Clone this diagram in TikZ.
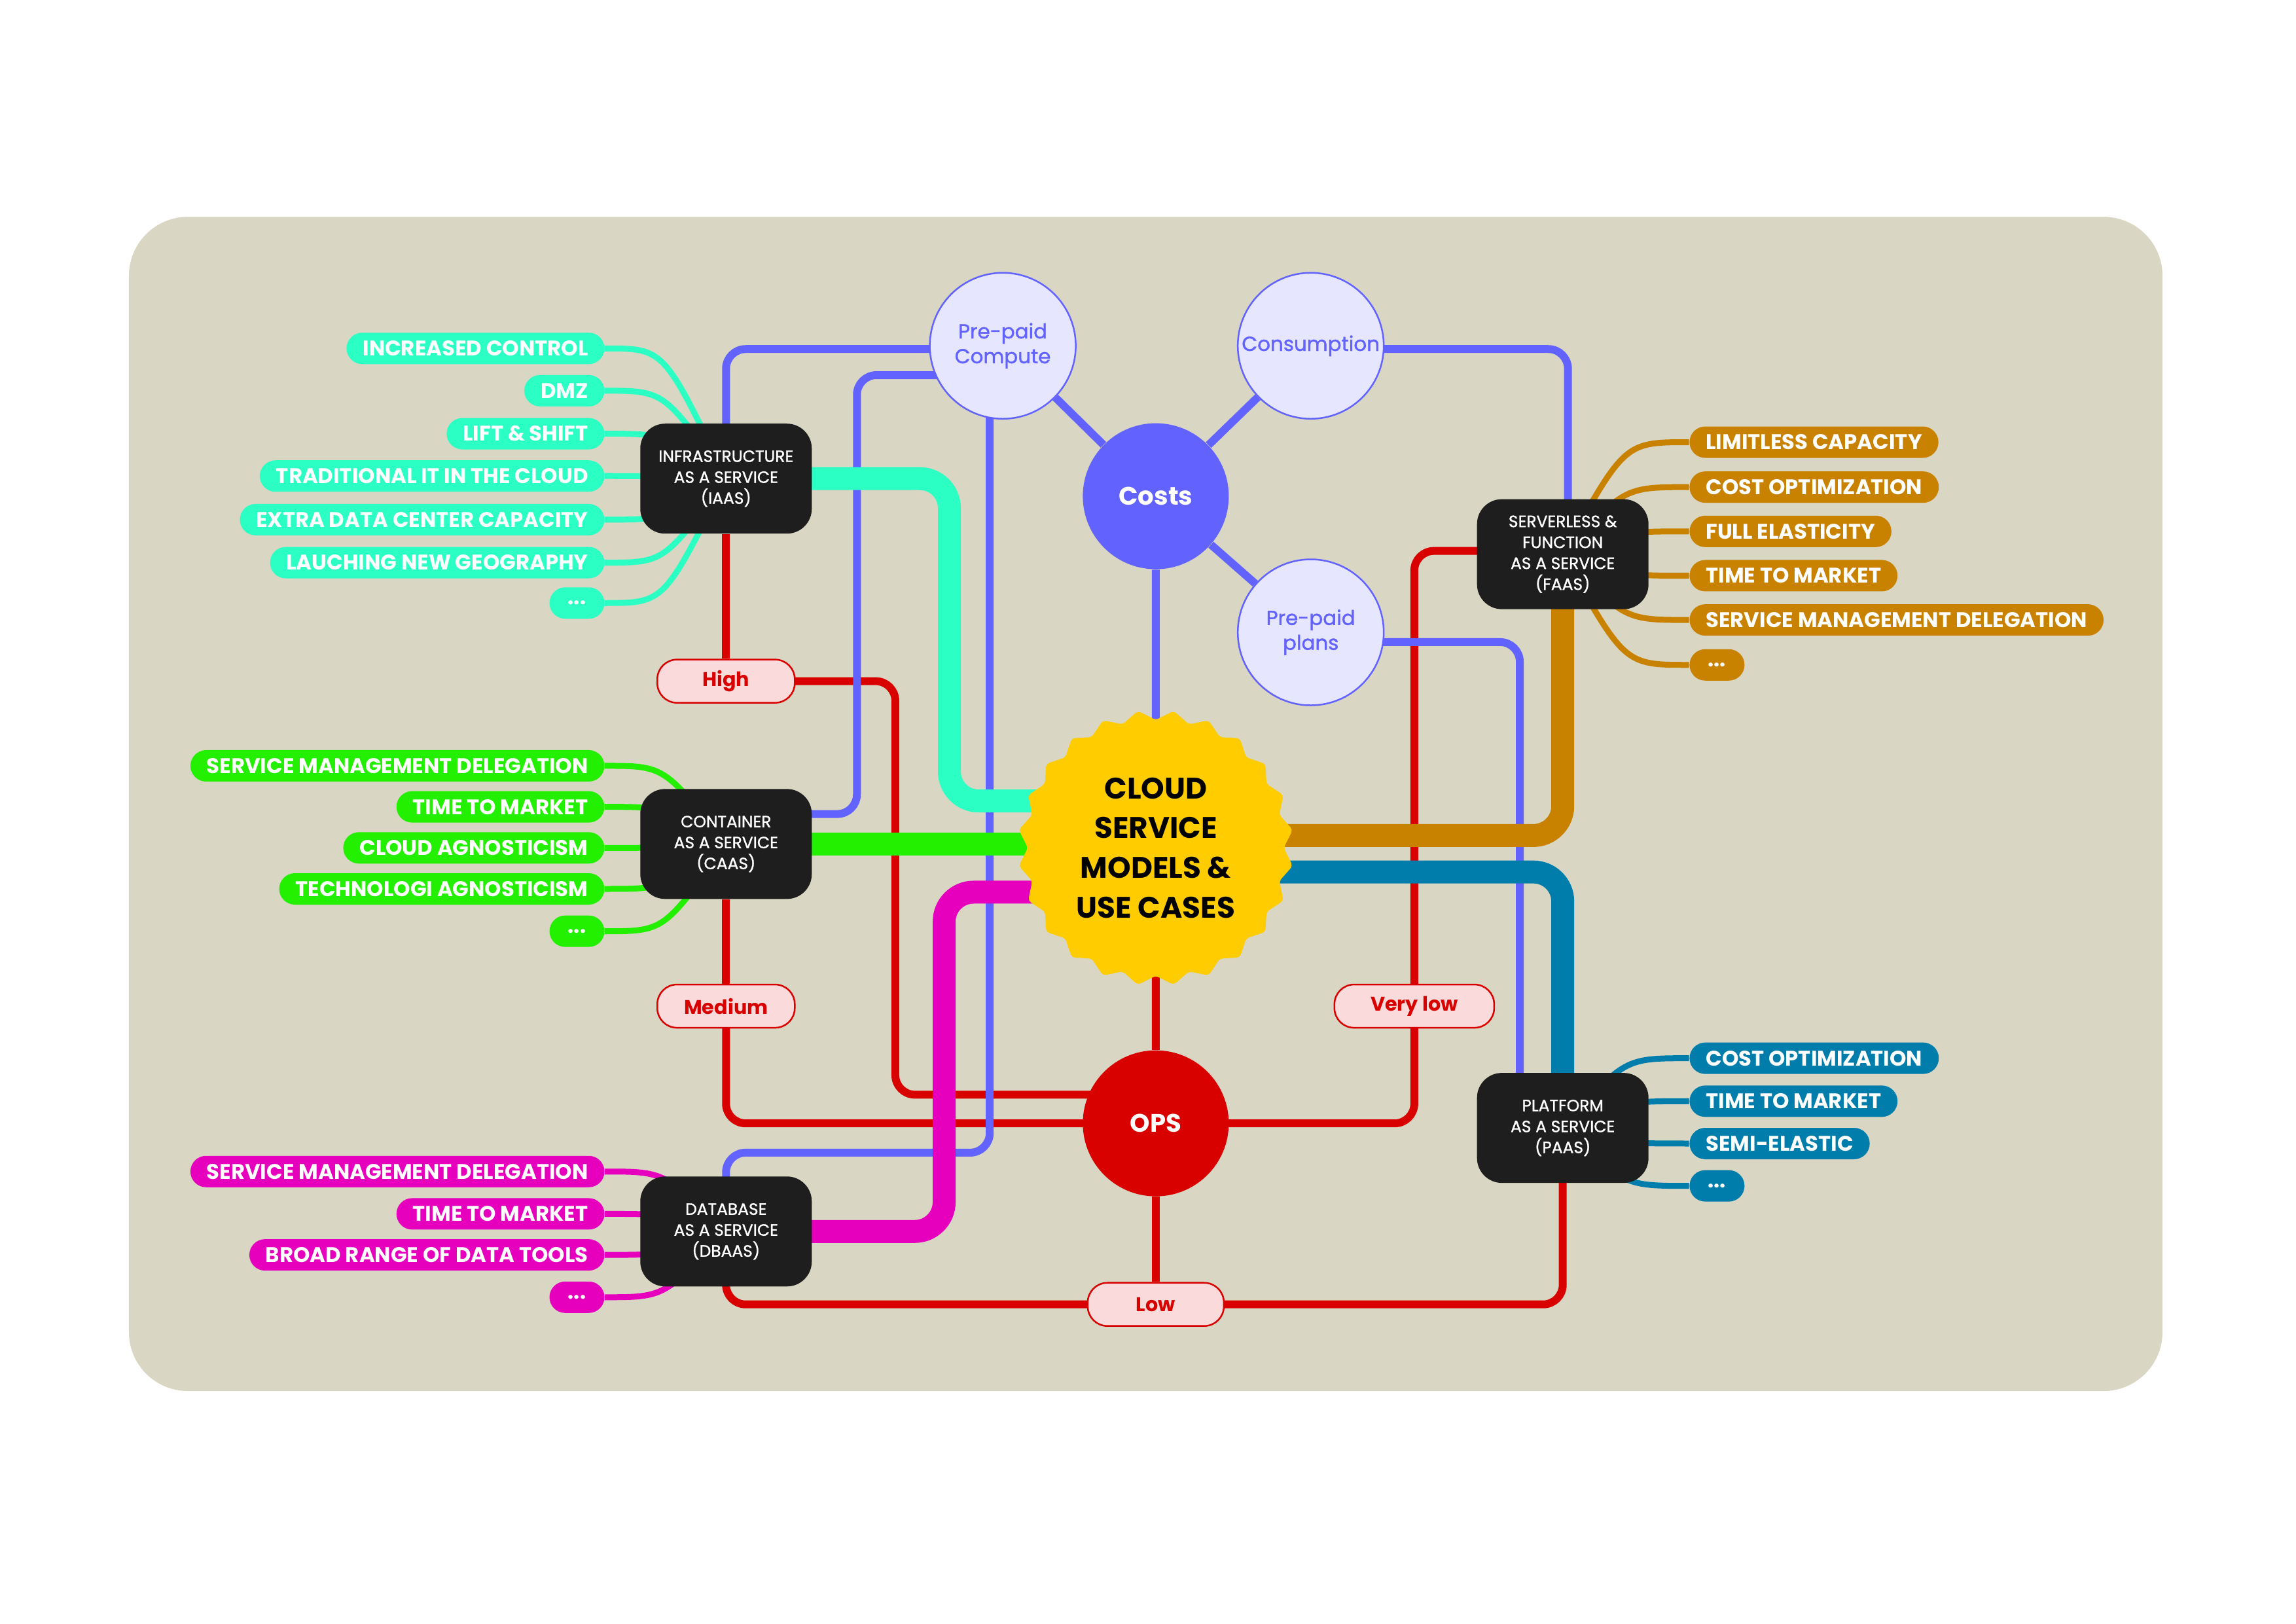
\documentclass[tikz,border=0pt]{standalone}
\usepackage{fontspec}
\newfontfamily\popf{Poppins}
\newfontfamily\popm{Poppins}[FakeBold=1.2]
\usetikzlibrary{shapes.geometric,calc}
\definecolor{bgc}{RGB}{217,214,195}
\definecolor{aquac}{RGB}{43,255,195}
\definecolor{greenc}{RGB}{34,240,0}
\definecolor{magc}{RGB}{230,0,190}
\definecolor{orangec}{RGB}{200,130,0}
\definecolor{petrolc}{RGB}{0,125,170}
\definecolor{costblue}{RGB}{98,98,255}
\definecolor{lavc}{RGB}{230,230,255}
\definecolor{redc}{RGB}{217,0,0}
\definecolor{pinkc}{RGB}{250,218,218}
\definecolor{boxc}{RGB}{30,30,30}
\definecolor{yellowc}{RGB}{255,204,0}
\newcommand\leafF{\popf\bfseries\fontsize{9.2}{11}\selectfont}
\newcommand\boxF{\popm\fontsize{7.1}{9.1}\selectfont}
\newcommand\starF{\popf\bfseries\fontsize{12.9}{17.3}\selectfont}
\newcommand\costF{\popf\bfseries\fontsize{11}{13}\selectfont}
\newcommand\subF{\popm\fontsize{8.8}{10.8}\selectfont}
\newcommand\lblF{\popf\bfseries\fontsize{8.6}{10}\selectfont}
\newcommand\opsF{\popf\bfseries\fontsize{11}{13}\selectfont}
\newcommand\lcurve[3]{\draw[lfl,#3] (#1.east) .. controls ($(#1.east -| #2.center)+(-95,0)$) .. (#2.center);}
\newcommand\rcurve[3]{\draw[lfl,#3] (#1.west) .. controls ($(#1.west -| #2.center)+(95,0)$) .. (#2.center);}
\pgfdeclarelayer{back}
\pgfdeclarelayer{edges}
\pgfsetlayers{back,edges,main}
\begin{document}
\begin{tikzpicture}[x=0.00995cm,y=-0.00995cm,
  thk/.style={line width=0.35cm, rounded corners=0.45cm},
  thn/.style={line width=0.12cm, rounded corners=0.3cm},
  lfl/.style={line width=0.09cm},
  box/.style={fill=boxc, rounded corners=0.38cm, minimum width=2.62cm, minimum height=1.68cm, text=white, align=center, font=\boxF, inner sep=0pt},
  costc/.style={circle, minimum size=2.23cm, inner sep=0pt, align=center},
  sub/.style={costc, fill=lavc, draw=costblue, line width=0.025cm, text=costblue, font=\subF},
  lbl/.style={rounded corners=0.3cm, fill=pinkc, draw=redc, line width=0.025cm, text=redc, font=\lblF, minimum height=0.66cm, minimum width=2.1cm, inner sep=0pt},
  leaf/.style={rounded corners=0.24cm, minimum height=0.48cm, inner xsep=0.25cm, inner ysep=0pt, text=white, font=\leafF, minimum width=0.84cm},
  lleaf/.style={leaf, anchor=east},
  rleaf/.style={leaf, anchor=west},
  starn/.style={star, star points=24, star point ratio=1.08, shape border rotate=7.5, minimum size=4.22cm, fill=yellowc, inner sep=0pt, align=center, font=\starF, rounded corners=0.05cm}
]
\useasboundingbox (0cm,0cm) rectangle (35.08cm,-24.8cm);
\begin{pgfonlayer}{back}
\fill[white] (0cm,0cm) rectangle (35.08cm,-24.8cm);
\fill[bgc, rounded corners=0.9cm] (198,333) rectangle (3321,2136);
\end{pgfonlayer}

% central nodes
\node[starn] (star) at (1775,1302) {CLOUD\\SERVICE\\MODELS \&\\USE CASES};
\node[costc, fill=costblue, text=white, font=\costF] (costs) at (1775,762) {Costs};
\node[sub] (ppc) at (1540,531) {Pre-paid\\Compute};
\node[sub] (cons) at (2013,531) {Consumption};
\node[sub] (ppp) at (2013,971) {Pre-paid\\plans};
\node[costc, fill=redc, text=white, font=\opsF] (ops) at (1775,1725) {OPS};

% service boxes
\node[box] (iaas) at (1115,735) {INFRASTRUCTURE\\AS A SERVICE\\(IAAS)};
\node[box] (caas) at (1115,1296) {CONTAINER\\AS A SERVICE\\(CAAS)};
\node[box] (dbaas) at (1115,1891) {DATABASE\\AS A SERVICE\\(DBAAS)};
\node[box] (faas) at (2400,851) {SERVERLESS \&\\FUNCTION\\AS A SERVICE\\(FAAS)};
\node[box] (paas) at (2400,1732) {PLATFORM\\AS A SERVICE\\(PAAS)};

% ops labels
\node[lbl] (high) at (1115,1046) {High};
\node[lbl] (medium) at (1115,1545) {Medium};
\node[lbl, minimum width=2.44cm] (vlow) at (2172,1545) {Very low};
\node[lbl, minimum width=2.08cm] (low) at (1775,2003) {Low};

% IaaS leaves
\node[lleaf, fill=aquac] (i1) at (929,535) {INCREASED CONTROL};
\node[lleaf, fill=aquac] (i2) at (929,600) {DMZ};
\node[lleaf, fill=aquac] (i3) at (929,666) {LIFT \& SHIFT};
\node[lleaf, fill=aquac] (i4) at (929,731) {TRADITIONAL IT IN THE CLOUD};
\node[lleaf, fill=aquac] (i5) at (929,798) {EXTRA DATA CENTER CAPACITY};
\node[lleaf, fill=aquac] (i6) at (929,864) {LAUCHING NEW GEOGRAPHY};
\node[lleaf, fill=aquac] (i7) at (929,926) {...};
% CaaS leaves
\node[lleaf, fill=greenc] (c1) at (929,1176) {SERVICE MANAGEMENT DELEGATION};
\node[lleaf, fill=greenc] (c2) at (929,1239) {TIME TO MARKET};
\node[lleaf, fill=greenc] (c3) at (929,1302) {CLOUD AGNOSTICISM};
\node[lleaf, fill=greenc] (c4) at (929,1365) {TECHNOLOGI AGNOSTICISM};
\node[lleaf, fill=greenc] (c5) at (929,1430) {...};
% DBaaS leaves
\node[lleaf, fill=magc] (d1) at (929,1799) {SERVICE MANAGEMENT DELEGATION};
\node[lleaf, fill=magc] (d2) at (929,1864) {TIME TO MARKET};
\node[lleaf, fill=magc] (d3) at (929,1927) {BROAD RANGE OF DATA TOOLS};
\node[lleaf, fill=magc] (d4) at (929,1992) {...};
% FaaS leaves
\node[rleaf, fill=orangec] (f1) at (2594,679) {LIMITLESS CAPACITY};
\node[rleaf, fill=orangec] (f2) at (2594,748) {COST OPTIMIZATION};
\node[rleaf, fill=orangec] (f3) at (2594,816) {FULL ELASTICITY};
\node[rleaf, fill=orangec] (f4) at (2594,884) {TIME TO MARKET};
\node[rleaf, fill=orangec] (f5) at (2594,952) {SERVICE MANAGEMENT DELEGATION};
\node[rleaf, fill=orangec] (f6) at (2594,1021) {...};
% PaaS leaves
\node[rleaf, fill=petrolc] (p1) at (2594,1625) {COST OPTIMIZATION};
\node[rleaf, fill=petrolc] (p2) at (2594,1691) {TIME TO MARKET};
\node[rleaf, fill=petrolc] (p3) at (2594,1756) {SEMI-ELASTIC};
\node[rleaf, fill=petrolc] (p4) at (2594,1821) {...};

\begin{pgfonlayer}{edges}
% leaf curves
\lcurve{i1}{iaas}{aquac}\lcurve{i2}{iaas}{aquac}\lcurve{i3}{iaas}{aquac}
\lcurve{i4}{iaas}{aquac}\lcurve{i5}{iaas}{aquac}\lcurve{i6}{iaas}{aquac}
\lcurve{i7}{iaas}{aquac}
\lcurve{c1}{caas}{greenc}\lcurve{c2}{caas}{greenc}\lcurve{c3}{caas}{greenc}
\lcurve{c4}{caas}{greenc}\lcurve{c5}{caas}{greenc}
\lcurve{d1}{dbaas}{magc}\lcurve{d2}{dbaas}{magc}\lcurve{d3}{dbaas}{magc}
\lcurve{d4}{dbaas}{magc}
\rcurve{f1}{faas}{orangec}\rcurve{f2}{faas}{orangec}\rcurve{f3}{faas}{orangec}
\rcurve{f4}{faas}{orangec}\rcurve{f5}{faas}{orangec}\rcurve{f6}{faas}{orangec}
\rcurve{p1}{paas}{petrolc}\rcurve{p2}{paas}{petrolc}\rcurve{p3}{paas}{petrolc}
\rcurve{p4}{paas}{petrolc}

% red ops lines
\draw[thn,redc] (iaas) -- (high);
\draw[thn,redc] (high.center) -| (1375,1681) -- (ops.center |- 0,1681);
\draw[thn,redc] (caas) -- (medium);
\draw[thn,redc] (medium.center) |- (ops.center);
\draw[thn,redc] (ops.center) -| (vlow.center);
\draw[thn,redc] (vlow.center) |- ($(faas.center)+(0,-5)$);
\draw[thn,redc] (star) -- (ops);
\draw[thn,redc] (ops) -- (low);
\draw[thn,redc] (dbaas.center) |- (low.center);
\draw[thn,redc] (low.center) -| (paas.center);

% blue cost lines
\draw[thn,costblue] (costs) -- (ppc);
\draw[thn,costblue] (costs) -- (cons);
\draw[thn,costblue] (costs) -- (ppp);
\draw[thn,costblue] (costs) -- (star);
\draw[thn,costblue] ($(ppc.center)+(0,5)$) -| (iaas.center);
\draw[thn,costblue] ($(ppc.center)+(0,45)$) -| (1316,1250) -- (caas.center |- 0,1250);
\draw[thn,costblue] ($(ppc.center)+(-20,0)$) |- (dbaas.center |- 0,1770) -- (dbaas.center);
\draw[thn,costblue] ($(cons.center)+(0,5)$) -| ($(faas.center)+(8,0)$);
\draw[thn,costblue] ($(ppp.center)+(0,15)$) -| ($(paas.center)+(-66,0)$);

% thick service lines
\draw[thk,aquac] (iaas.center) -| (1458,1230) -- (star.center |- 0,1230);
\draw[thk,greenc] (caas.center) -- (star.center |- caas.center);
\draw[thk,magc] (dbaas.center) -| (1450,1370) -- (star.center |- 0,1370);
\draw[thk,orangec] (faas.center) |- (star.center |- 0,1283);
\draw[thk,petrolc] (paas.center) |- (star.center |- 0,1339);
\end{pgfonlayer}
\end{tikzpicture}
\end{document}
